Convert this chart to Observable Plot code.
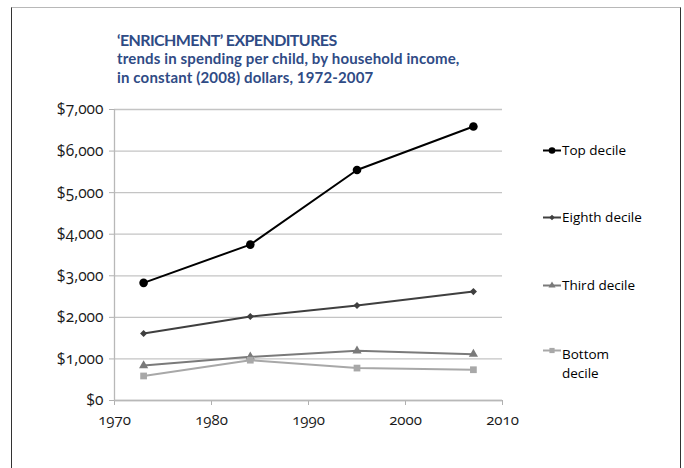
<!DOCTYPE html>
<html>
<head>
<meta charset="utf-8">
<script src="https://cdn.jsdelivr.net/npm/d3@7"></script>
<script src="https://cdn.jsdelivr.net/npm/@observablehq/plot@0.6"></script>
<style>
  html, body { margin: 0; padding: 0; background: #fff; }
  #wrap { position: relative; width: 684px; height: 468px; overflow: hidden; background: #fff; }
  #frame { position: absolute; left: 11px; top: 7px; width: 668px; height: 480px;
           border-top: 1.5px solid #b8b8b8; border-left: 1.5px solid #333; border-right: 1.5px solid #333; }
  #title { position: absolute; left: 117px; top: 30px; color: #2f4b85; font-family: Lato, "Open Sans", sans-serif; font-weight: bold; }
  #title .t1 { font-size: 16px; line-height: 19px; letter-spacing: -0.6px; }
  #title .t2 { font-size: 15px; line-height: 19px; letter-spacing: 0.15px; }
  #chart { position: absolute; left: 0; top: 0; }
  #chart svg text { font-family: "Open Sans", Lato, sans-serif; font-variant-numeric: oldstyle-nums; }
  .leg { position: absolute; left: 541px; font-family: "Open Sans", sans-serif; font-size: 13.5px; color: #000; line-height: 19px; }
  .leg svg { position: absolute; left: 0; top: 0; overflow: visible; }
  .leg span { position: absolute; left: 21px; white-space: nowrap; }
</style>
</head>
<body>
<div id="wrap">
  <div id="frame"></div>
  <div id="chart"></div>
  <div id="title">
    <div class="t1">‘ENRICHMENT’ EXPENDITURES</div>
    <div class="t2">trends in spending per child, by household income,</div>
    <div class="t2">in constant (2008) dollars, 1972-2007</div>
  </div>
  <div id="legend"></div>
</div>
<script>
const years = [1973, 1984, 1995, 2007];
const seriesNames = ["Top decile", "Eighth decile", "Third decile", "Bottom decile"];
const topDecile = [2830, 3750, 5545, 6590];
const eighthDecile = [1610, 2020, 2285, 2620];
const thirdDecile = [840, 1050, 1195, 1115];
const bottomDecile = [590, 970, 780, 740];
const yTicks = [0, 1000, 2000, 3000, 4000, 5000, 6000, 7000];
const xTicks = [1970, 1980, 1990, 2000, 2010];

const seriesColors = ["#000000", "#3f3f3f", "#7a7a7a", "#a8a8a8"];
const seriesSymbols = ["circle", "diamond2", "triangle", "square"];
const seriesR = [4.3, 3.2, 3.4, 3.8];
const seriesValues = [topDecile, eighthDecile, thirdDecile, bottomDecile];

const data = [];
seriesNames.forEach((s, i) => years.forEach((y, j) => data.push({series: s, year: y, value: seriesValues[i][j]})));

const fmt = d3.format(",");
const marks = [
  Plot.gridY(yTicks, {stroke: "#c4c4c4", strokeOpacity: 1, strokeWidth: 1.3}),
  Plot.axisY(yTicks, {tickSize: 5, stroke: "#b0b0b0", tickPadding: 6, fontSize: 15.5, fill: "#1a1a1a",
    tickFormat: d => "$" + fmt(d), label: null}),
  Plot.axisX(xTicks, {tickSize: 5, stroke: "#b0b0b0", tickPadding: 9, fontSize: 15, fill: "#1a1a1a",
    tickFormat: d => String(d), label: null}),
  Plot.ruleX([1970], {stroke: "#b8b8b8", strokeWidth: 1.3}),
  Plot.ruleY([0], {stroke: "#b8b8b8", strokeWidth: 1.3})
];
seriesNames.forEach((s, i) => {
  const d = data.filter(r => r.series === s);
  marks.push(Plot.line(d, {x: "year", y: "value", stroke: seriesColors[i], strokeWidth: 2}));
  marks.push(Plot.dot(d, {x: "year", y: "value", symbol: () => seriesSymbols[i], fill: seriesColors[i], r: seriesR[i], stroke: "none"}));
});

const chart = Plot.plot({
  width: 684, height: 468,
  marginLeft: 114, marginRight: 182, marginTop: 109, marginBottom: 68,
  x: {domain: [1970, 2010]},
  y: {domain: [0, 7000]},
  symbol: {type: "identity"},
  style: {background: "transparent", overflow: "visible"},
  marks
});
document.getElementById("chart").appendChild(chart);

// legend
const legTops = [141, 208, 276, 341];
const leg = d3.select("#legend");
seriesNames.forEach((s, i) => {
  const div = leg.append("div").attr("class", "leg").style("top", legTops[i] + "px");
  const svg = div.append("svg").attr("width", 20).attr("height", 19);
  svg.append("line").attr("x1", 2).attr("x2", 20).attr("y1", 9.5).attr("y2", 9.5)
    .attr("stroke", seriesColors[i]).attr("stroke-width", 2);
  svg.append("path").attr("transform", "translate(11,9.5)")
    .attr("d", d3.symbol(({circle: d3.symbolCircle, diamond2: d3.symbolDiamond2, triangle: d3.symbolTriangle, square: d3.symbolSquare})[seriesSymbols[i]], Math.PI * seriesR[i] * seriesR[i] * 0.6)())
    .attr("fill", seriesColors[i]);
  const parts = s === "Bottom decile" ? ["Bottom", "decile"] : [s];
  const span = div.append("span").style("top", parts.length > 1 ? "4px" : "0px");
  span.html(parts.join("<br>"));
});
</script>
</body>
</html>
